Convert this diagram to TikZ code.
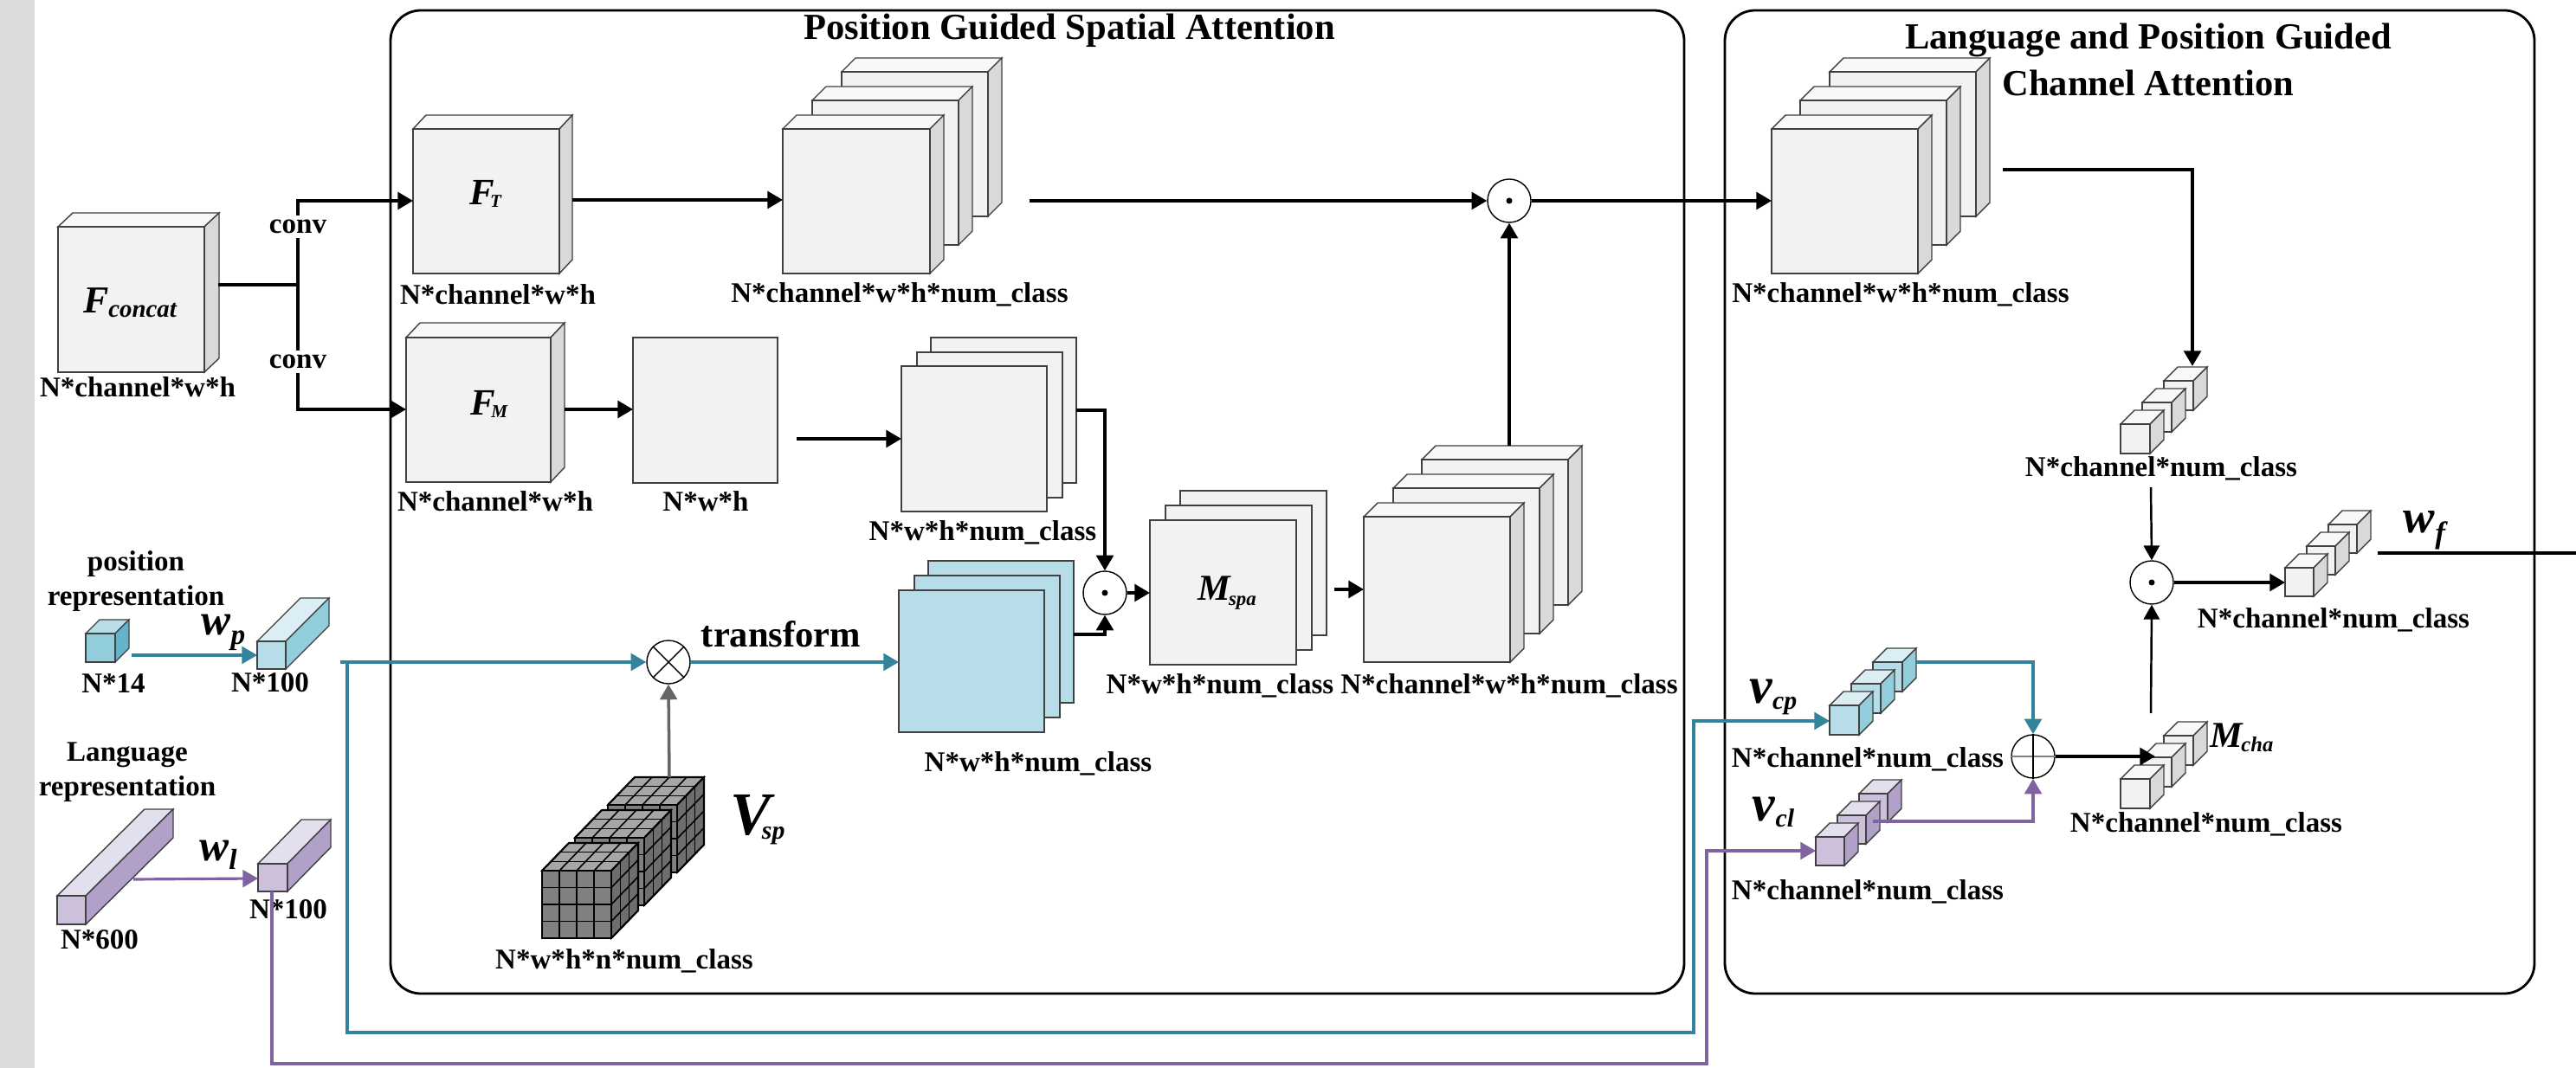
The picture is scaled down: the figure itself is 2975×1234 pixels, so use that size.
\documentclass[tikz,border=0pt]{standalone}
\usepackage{fontspec}
\setmainfont{Liberation Serif}
\usetikzlibrary{arrows.meta}
\definecolor{stripc}{HTML}{DCDCDC}
\definecolor{tealc}{HTML}{31849B}
\definecolor{purpc}{HTML}{8064A2}
\definecolor{gfront}{HTML}{F2F2F2}
\definecolor{gtop}{HTML}{F8F8F8}
\definecolor{gside}{HTML}{D9D9D9}
\definecolor{bfront}{HTML}{B7DEE8}
\definecolor{btop}{HTML}{DAEEF3}
\definecolor{bside}{HTML}{92CDDC}
\definecolor{bdfront}{HTML}{92CDDC}
\definecolor{bdtop}{HTML}{B7DEE8}
\definecolor{bdside}{HTML}{63B4CB}
\definecolor{pfront}{HTML}{CCC0DA}
\definecolor{ptop}{HTML}{E4DFEC}
\definecolor{pside}{HTML}{B1A0C7}
\definecolor{vfront}{HTML}{808080}
\definecolor{vtop}{HTML}{A6A6A6}
\definecolor{vside}{HTML}{6E6E6E}
\newcommand\mycube[9]{%
  \filldraw[cubeline, fill=#8] (#1,#2) -- ++(#5,-#6) -- ++(#3,0) -- ++(-#5,#6) -- cycle;
  \filldraw[cubeline, fill=#9] ({#1+#3},#2) -- ++(#5,-#6) -- ++(0,#4) -- ++(-#5,#6) -- cycle;
  \filldraw[cubeline, fill=#7] (#1,#2) rectangle ++(#3,#4);
}
\newcommand\gcube[2]{%
  \filldraw[gridline, fill=vtop] (#1,#2) -- ++(31,-32) -- ++(80,0) -- ++(-31,32) -- cycle;
  \filldraw[gridline, fill=vside] ({#1+80},#2) -- ++(31,-32) -- ++(0,78) -- ++(-31,32) -- cycle;
  \filldraw[gridline, fill=vfront] (#1,#2) rectangle ++(80,78);
  \foreach \i in {1,2,3}{
    \draw[gridline] ({#1+20*\i},#2) -- ++(0,78);
    \draw[gridline] (#1,{#2+19.5*\i}) -- ++(80,0);
    \draw[gridline] ({#1+20*\i},#2) -- ++(31,-32);
    \draw[gridline] ({#1+80},{#2+19.5*\i}) -- ++(31,-32);
  }
  \foreach \j in {1,2}{
    \draw[gridline] ({#1+31*\j/3},{#2-32*\j/3}) -- ++(80,0);
    \draw[gridline] ({#1+80+31*\j/3},{#2-32*\j/3}) -- ++(0,78);
  }
  \draw[line width=0.6pt] (#1,#2) rectangle ++(80,78);
  \draw[line width=0.6pt] (#1,#2) -- ++(31,-32) -- ++(80,0) -- ++(0,78) -- ++(-31,32);
  \draw[line width=0.6pt] ({#1+80},#2) -- ++(31,-32);
}
\newcommand\sym[5]{{\fontsize{#1}{#1}\selectfont\bfseries\itshape #2}\raisebox{#5}{\fontsize{#3}{#3}\selectfont\bfseries\itshape #4}}
\tikzset{
  cubeline/.style={draw=black!75, line width=0.4pt},
  gridline/.style={draw=black, line width=0.45pt},
  boxline/.style={line width=0.8pt, rounded corners=0.35cm},
  lbl/.style={font=\fontsize{9.4}{11}\selectfont\bfseries, inner sep=0pt},
  ttl/.style={font=\fontsize{12.1}{15.4}\selectfont\bfseries, inner sep=0pt, align=center},
  symb/.style={inner sep=0pt},
  ln/.style={line width=1.0pt},
  arr/.style={line width=1.0pt, -{Triangle[length=5pt,width=5.6pt]}},
  tharr/.style={line width=0.7pt, -{Triangle[length=4.8pt,width=5.2pt]}},
  tarr/.style={draw=tealc, line width=0.9pt, -{Triangle[length=5pt,width=5.6pt]}},
  parr/.style={draw=purpc, line width=0.9pt, -{Triangle[length=5pt,width=5.6pt]}},
  garr/.style={draw=black!60, line width=1.0pt, -{Triangle[length=5pt,width=5.6pt]}},
  op/.style={circle, draw, line width=0.4pt, minimum size=0.5cm, inner sep=0pt, fill=white},
}
\begin{document}
\begin{tikzpicture}[x=0.01cm,y=-0.01cm]
\useasboundingbox (0,0) rectangle (2975,1234);
\fill[white] (0,0) rectangle (2975,1234);
\fill[stripc] (0,0) rectangle (40,1234);

% ---- frames ----
\draw[boxline] (451,12) rectangle (1945,1148);
\draw[boxline] (1992,12) rectangle (2927,1148);
\node[ttl] (t1) at (1235,35) {Position Guided Spatial Attention};
\node[ttl] (t2) at (2481,69) {Language and Position Guided\\Channel Attention};

% ---- input feature ----
\mycube{67}{262}{169}{168}{17}{16}{gfront}{gtop}{gside}
\node[symb] (sfc) at (150,350) {\sym{12.5}{F}{8.2}{concat}{-1.5pt}};
\node[lbl] (l1) at (159,447) {N*channel*w*h};

% ---- F_T ----
\mycube{477}{149}{169}{167}{15}{16}{gfront}{gtop}{gside}
\node[symb] (sft) at (561,224) {\sym{12.2}{F}{6}{\kern-1.5pt T}{-0.8pt}};
\node[lbl] (l2) at (575,340) {N*channel*w*h};

% ---- F_M ----
\mycube{469}{390}{167}{167}{16}{17}{gfront}{gtop}{gside}
\node[symb] (sfm) at (565,467) {\sym{12.2}{F}{6}{\kern-1.5pt M}{-0.8pt}};
\node[lbl] (l4) at (572,579) {N*channel*w*h};

% ---- stack A ----
\mycube{972}{83}{169}{167}{16}{16}{gfront}{gtop}{gside}
\mycube{938}{116}{169}{167}{16}{16}{gfront}{gtop}{gside}
\mycube{904}{149}{170}{167}{16}{16}{gfront}{gtop}{gside}
\node[lbl] (l3) at (1039,340) {N*channel*w*h*num\_class};

% ---- N*w*h square ----
\filldraw[cubeline, fill=gfront] (731,390) rectangle (898,558);
\node[lbl] (l5) at (815,579) {N*w*h};

% ---- stack C ----
\filldraw[cubeline, fill=gfront] (1075,390) rectangle ++(168,168);
\filldraw[cubeline, fill=gfront] (1059,407) rectangle ++(168,168);
\filldraw[cubeline, fill=gfront] (1041,423) rectangle ++(168,168);
\node[lbl] (l6) at (1135,615) {N*w*h*num\_class};

% ---- stack D (blue) ----
\filldraw[cubeline, fill=bfront] (1072,648) rectangle ++(168,164);
\filldraw[cubeline, fill=bfront] (1056,665) rectangle ++(168,164);
\filldraw[cubeline, fill=bfront] (1038,682) rectangle ++(168,164);
\node[lbl] (l7) at (1199,882) {N*w*h*num\_class};

% ---- stack E (M_spa) ----
\filldraw[cubeline, fill=gfront] (1363,567) rectangle ++(169,167);
\filldraw[cubeline, fill=gfront] (1346,584) rectangle ++(169,167);
\filldraw[cubeline, fill=gfront] (1328,601) rectangle ++(169,167);
\node[symb] (sms) at (1417,685) {\sym{12}{M}{6.5}{\kern-0.5pt spa}{-1.5pt}};
\node[lbl] (l8) at (1409,792) {N*w*h*num\_class};

% ---- stack F ----
\mycube{1642}{531}{169}{168}{16}{16}{gfront}{gtop}{gside}
\mycube{1609}{564}{169}{168}{16}{16}{gfront}{gtop}{gside}
\mycube{1575}{597}{169}{168}{16}{16}{gfront}{gtop}{gside}
\node[lbl] (l9) at (1743,792) {N*channel*w*h*num\_class};

% ---- V_sp ----
\gcube{702}{930}
\gcube{664}{968}
\gcube{626}{1006}
\node[symb] (svsp) at (875,947) {\sym{20}{V}{8.5}{\kern-3pt sp}{-1.5pt}};
\node[lbl] (l10) at (721,1110) {N*w*h*n*num\_class};

% ---- inputs ----
\node[lbl, align=center, font=\fontsize{9.4}{11.4}\selectfont\bfseries] (lpos) at (157,672) {position\\representation};
\mycube{99}{732}{34}{33}{16}{16}{bdfront}{bdtop}{bdside}
\node[lbl] (l11) at (131,790) {N*14};
\mycube{297}{741}{33}{32}{50}{50}{bfront}{btop}{bside}
\node[lbl] (l12) at (312,789) {N*100};
\node[symb] (swp) at (258,731) {\sym{14.5}{w}{9.5}{p}{-3pt}};

\node[lbl, align=center, font=\fontsize{9.4}{11.4}\selectfont\bfseries] (llang) at (147,892) {Language\\representation};
\mycube{66}{1035}{33}{33}{101}{100}{pfront}{ptop}{pside}
\node[lbl] (l13) at (115,1086) {N*600};
\mycube{298}{998}{34}{32}{50}{51}{pfront}{ptop}{pside}
\node[lbl] (l14) at (333,1051) {N*100};
\node[symb] (swl) at (252,988) {\sym{14.5}{w}{9.5}{l}{-3pt}};

% ---- stack G ----
\mycube{2113}{83}{169}{167}{16}{16}{gfront}{gtop}{gside}
\mycube{2079}{116}{169}{167}{16}{16}{gfront}{gtop}{gside}
\mycube{2046}{149}{169}{167}{16}{16}{gfront}{gtop}{gside}
\node[lbl] (l15) at (2195,340) {N*channel*w*h*num\_class};

% ---- small cube stacks ----
\mycube{2499}{440}{34}{34}{16}{16}{gfront}{gtop}{gside}
\mycube{2474}{465}{34}{34}{16}{16}{gfront}{gtop}{gside}
\mycube{2449}{490}{34}{34}{16}{16}{gfront}{gtop}{gside}
\node[lbl] (l16) at (2496,541) {N*channel*num\_class};

\mycube{2689}{606}{33}{33}{16}{16}{gfront}{gtop}{gside}
\mycube{2664}{631}{33}{33}{16}{16}{gfront}{gtop}{gside}
\mycube{2639}{656}{33}{33}{16}{16}{gfront}{gtop}{gside}
\node[lbl] (l17) at (2695,716) {N*channel*num\_class};
\node[symb] (swf) at (2800,613) {\sym{15.5}{w}{10}{f}{-3.5pt}};

\mycube{2499}{850}{34}{34}{16}{16}{gfront}{gtop}{gside}
\mycube{2474}{875}{34}{34}{16}{16}{gfront}{gtop}{gside}
\mycube{2449}{900}{34}{34}{16}{16}{gfront}{gtop}{gside}
\node[symb] (smc) at (2589,852) {\sym{12}{M}{7}{\kern-0.5pt cha}{-1.5pt}};
\node[lbl] (l18) at (2548,952) {N*channel*num\_class};

\mycube{2163}{765}{34}{34}{16}{16}{bfront}{btop}{bside}
\mycube{2138}{790}{34}{34}{16}{16}{bfront}{btop}{bside}
\mycube{2113}{815}{34}{34}{16}{16}{bfront}{btop}{bside}
\node[symb] (svcp) at (2048,805) {\sym{17}{v}{8.5}{cp}{-2pt}};
\node[lbl] (l19) at (2157,877) {N*channel*num\_class};

\mycube{2147}{917}{33}{33}{16}{16}{pfront}{ptop}{pside}
\mycube{2122}{942}{33}{33}{16}{16}{pfront}{ptop}{pside}
\mycube{2097}{967}{33}{33}{16}{16}{pfront}{ptop}{pside}
\node[symb] (svcl) at (2048,938) {\sym{17}{v}{8.5}{cl}{-2pt}};
\node[lbl] (l20) at (2157,1030) {N*channel*num\_class};

% ---- operators ----
\node[op] (dot1) at (1743,232) {};
\fill (dot1) circle[radius=0.035cm];
\node[op] (dot2) at (1276,685) {};
\fill (dot2) circle[radius=0.035cm];
\node[op] (dot3) at (2485,673) {};
\fill (dot3) circle[radius=0.035cm];
\node[op] (mul) at (772,765) {};
\draw[line width=0.4pt] (mul.45) -- (mul.225) (mul.135) -- (mul.315);
\node[op] (add) at (2348,874) {};
\draw[line width=0.4pt, black!50] (add.west) -- (add.east);
\draw[line width=0.4pt] (add.north) -- (add.south);

% ---- named anchor points ----
\coordinate (fc-e) at (252,329);
\coordinate (jn) at (344,329);
\coordinate (jn-t) at (344,232);
\coordinate (jn-b) at (344,473);
\coordinate (ft-w) at (477,232);
\coordinate (fm-w) at (469,473);
\coordinate (ft-e) at (661,231);
\coordinate (sa-w) at (904,231);
\coordinate (sa-e) at (1189,232);
\coordinate (sg-w) at (2046,232);
\coordinate (fm-e) at (652,473);
\coordinate (sq-w) at (731,473);
\coordinate (sq-e) at (920,507);
\coordinate (sc-w) at (1041,507);
\coordinate (sc-e) at (1243,474);
\coordinate (sc-k) at (1276,474);
\coordinate (sd-w) at (1038,765);
\coordinate (sd-e) at (1240,733);
\coordinate (sd-k) at (1276,733);
\coordinate (se-w) at (1328,685);
\coordinate (se-e) at (1541,681);
\coordinate (sf-w) at (1575,681);
\coordinate (sf-t) at (1743,515);
\coordinate (vsp-t) at (773,898);
\coordinate (p14-e) at (152,757);
\coordinate (p100-w) at (297,757);
\coordinate (tp0) at (393,765);
\coordinate (tp1) at (401,765);
\coordinate (tp2) at (401,1193);
\coordinate (tp3) at (1956,1193);
\coordinate (tp4) at (1956,833);
\coordinate (vcp-w) at (2113,833);
\coordinate (l600-e) at (154,1016);
\coordinate (l100-w) at (298,1015);
\coordinate (pp0) at (314,1030);
\coordinate (pp1) at (314,1229);
\coordinate (pp2) at (1971,1229);
\coordinate (pp3) at (1971,983);
\coordinate (vcl-w) at (2097,983);
\coordinate (sg-e) at (2313,196);
\coordinate (sg-k) at (2532,196);
\coordinate (sh-t) at (2532,423);
\coordinate (sh-b) at (2484,563);
\coordinate (wf-w) at (2639,673);
\coordinate (wf-e) at (2746,639);
\coordinate (wf-x) at (2975,639);
\coordinate (mc-t) at (2484,824);
\coordinate (mc-w) at (2489,874);
\coordinate (vcp-e) at (2213,765);
\coordinate (vcp-k) at (2348,765);
\coordinate (vcl-e) at (2163,949);
\coordinate (vcl-k) at (2348,949);

% ---- connectors ----
\draw[ln] (fc-e) -- (jn);
\draw[arr] (jn) -- (jn-t) -- (ft-w);
\draw[arr] (jn) -- (jn-b) -- (fm-w);
\node[lbl, fill=white, inner sep=1.5pt] (conv1) at (344,262) {conv};
\node[lbl, fill=white, inner sep=1.5pt] (conv2) at (344,418) {conv};
\draw[arr] (ft-e) -- (sa-w);
\draw[arr] (sa-e) -- (dot1.west);
\draw[arr] (dot1.east) -- (sg-w);
\draw[arr] (sf-t) -- (dot1.south);
\draw[arr] (fm-e) -- (sq-w);
\draw[arr] (sq-e) -- (sc-w);
\draw[arr] (sc-e) -- (sc-k) -- (dot2.north);
\draw[arr] (sd-e) -- (sd-k) -- (dot2.south);
\draw[arr] (dot2.east) -- (se-w);
\draw[arr] (se-e) -- (sf-w);
\draw[garr] (vsp-t) -- (mul.south);
\draw[tarr] (tp0) -- (mul.west);
\draw[tarr] (mul.east) -- (sd-w);
\node[ttl] (ltr) at (902,733) {transform};
\draw[tarr] (p14-e) -- (p100-w);
\draw[tarr] (tp1) -- (tp2) -- (tp3) -- (tp4) -- (vcp-w);
\draw[parr] (l600-e) -- (l100-w);
\draw[parr] (pp0) -- (pp1) -- (pp2) -- (pp3) -- (vcl-w);
\draw[arr] (sg-e) -- (sg-k) -- (sh-t);
\draw[tharr] (sh-b) -- (dot3.north);
\draw[arr] (dot3.east) -- (wf-w);
\draw[tharr] (mc-t) -- (dot3.south);
\draw[ln] (wf-e) -- (wf-x);
\draw[tarr] (vcp-e) -- (vcp-k) -- (add.north);
\draw[parr] (vcl-e) -- (vcl-k) -- (add.south);
\draw[arr] (add.east) -- (mc-w);
\end{tikzpicture}
\end{document}
